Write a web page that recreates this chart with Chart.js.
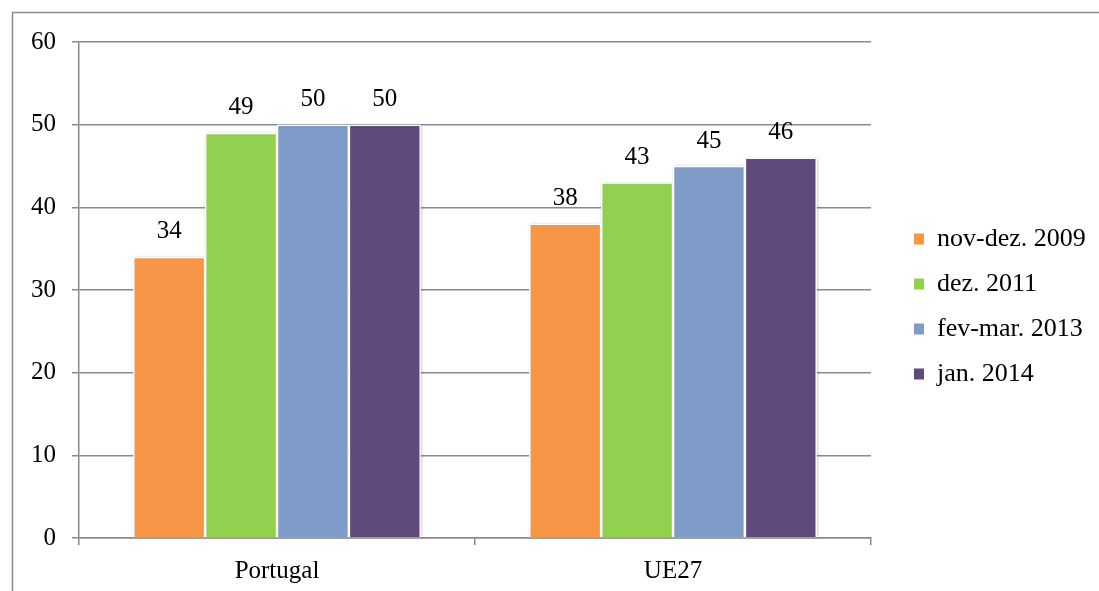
<!DOCTYPE html>
<html>
<head>
<meta charset="utf-8">
<script src="https://cdn.jsdelivr.net/npm/chart.js@4/dist/chart.umd.min.js"></script>
<style>
  html, body { margin: 0; padding: 0; background: #fff; }
  #wrap { width: 1099px; height: 591px; position: relative; }
</style>
</head>
<body>
<div id="wrap"><canvas id="c" width="1099" height="591"></canvas></div>
<script>
// Categories, series and axis ticks
const categories = ['Portugal', 'UE27'];
const seriesNames = ['nov-dez. 2009', 'dez. 2011', 'fev-mar. 2013', 'jan. 2014'];
const nov2009 = [34, 38];
const dez2011 = [49, 43];
const fevMar2013 = [50, 45];
const jan2014 = [50, 46];
const yTicks = [0, 10, 20, 30, 40, 50, 60];

const seriesValues = [nov2009, dez2011, fevMar2013, jan2014];
const seriesColors = ['#F79646', '#92D050', '#7F9CC8', '#604A7B'];

const FONT = '"Liberation Serif", "Times New Roman", serif';
const FONT_SIZE = 25;
const LEGEND_FONT_SIZE = 26;
const AXIS_GREY = '#8a8a8a';

// Layout targets (canvas pixels)
const CANVAS_W = 1099, CANVAS_H = 591;
const PLOT_LEFT = 79, PLOT_RIGHT = 871, PLOT_TOP = 42, PLOT_BOTTOM = 538;
const LEGEND_PAD = 19, LEGEND_BOX_W = 10, LEGEND_BOX_H = 11, LEGEND_BOX_X = 914;
const PAD_TOP = 22;

// Outer frame of the chart object
const framePlugin = {
  id: 'frame',
  beforeDraw(chart) {
    const ctx = chart.ctx;
    ctx.save();
    ctx.strokeStyle = '#8c8c8c';
    ctx.lineWidth = 1.5;
    ctx.beginPath();
    ctx.moveTo(12.5, CANVAS_H);
    ctx.lineTo(12.5, 12.5);
    ctx.lineTo(CANVAS_W, 12.5);
    ctx.stroke();
    ctx.restore();
  }
};

// Soft drop shadow behind each bar
const barShadowPlugin = {
  id: 'barShadow',
  beforeDatasetsDraw(chart) {
    const ctx = chart.ctx;
    ctx.save();
    ctx.shadowColor = 'rgba(0,0,0,0.28)';
    ctx.shadowBlur = 3;
    ctx.shadowOffsetX = 1;
    ctx.shadowOffsetY = 0;
    ctx.fillStyle = '#ffffff';
    chart.data.datasets.forEach((ds, i) => {
      const meta = chart.getDatasetMeta(i);
      meta.data.forEach(el => {
        const p = el.getProps(['x', 'y', 'base', 'width'], true);
        ctx.fillRect(p.x - p.width / 2, p.y, p.width, p.base - p.y);
      });
    });
    ctx.restore();
  }
};

// Value written above every bar
const valueLabelPlugin = {
  id: 'valueLabels',
  afterDatasetsDraw(chart) {
    const ctx = chart.ctx;
    ctx.save();
    ctx.font = FONT_SIZE + 'px ' + FONT;
    ctx.fillStyle = '#000';
    ctx.textAlign = 'center';
    ctx.textBaseline = 'middle';
    chart.data.datasets.forEach((ds, i) => {
      const meta = chart.getDatasetMeta(i);
      meta.data.forEach((el, j) => {
        const p = el.getProps(['x', 'y'], true);
        ctx.fillText(String(ds.data[j]), p.x, p.y - 25);
      });
    });
    ctx.restore();
  }
};

Chart.defaults.font.family = FONT;
Chart.defaults.font.size = FONT_SIZE;
Chart.defaults.color = '#000';

// Invisible spacer axis: only reserves room in the layout
const spacer = (position, weight, sizeFn) => ({
  type: 'linear',
  position,
  weight,
  display: true,
  grid: { display: false },
  border: { display: false },
  ticks: { display: false },
  afterFit(scale) {
    const size = sizeFn(scale.chart);
    if (position === 'top' || position === 'bottom') scale.height = size;
    else scale.width = size;
  }
});

const GAP_BEFORE_LEGEND = LEGEND_BOX_X - LEGEND_PAD - PLOT_RIGHT;

new Chart(document.getElementById('c'), {
  type: 'bar',
  data: {
    labels: categories,
    datasets: seriesNames.map((name, i) => ({
      label: name,
      data: seriesValues[i],
      backgroundColor: seriesColors[i],
      borderColor: '#ffffff',
      borderWidth: 1.25,
      barPercentage: 1,
      categoryPercentage: 0.726
    }))
  },
  options: {
    responsive: false,
    animation: false,
    events: [],
    layout: { padding: { left: 0, top: PAD_TOP, right: 0, bottom: 0 } },
    scales: {
      x: {
        grid: { display: true, drawOnChartArea: false, drawTicks: true, tickLength: 7, color: AXIS_GREY, lineWidth: 1.5 },
        border: { display: true, color: AXIS_GREY, width: 1.5 },
        ticks: { padding: 11, font: { size: FONT_SIZE, family: FONT }, color: '#000' },
        afterFit(scale) { scale.height = CANVAS_H - PLOT_BOTTOM; }
      },
      y: {
        min: yTicks[0],
        max: yTicks[yTicks.length - 1],
        afterBuildTicks(scale) { scale.ticks = yTicks.map(v => ({ value: v })); },
        grid: { color: AXIS_GREY, lineWidth: 1.5, tickLength: 7 },
        border: { display: true, color: AXIS_GREY, width: 1.5 },
        ticks: { padding: 16, font: { size: FONT_SIZE, family: FONT }, color: '#000' },
        afterFit(scale) { scale.width = PLOT_LEFT; }
      },
      topGap: spacer('top', 0, () => PLOT_TOP - PAD_TOP),
      rightGap: spacer('right', 0, () => GAP_BEFORE_LEGEND),
      outerGap: spacer('right', 2000, chart => {
        const lw = chart.legend ? chart.legend.width : 0;
        return Math.max(0, CANVAS_W - PLOT_RIGHT - GAP_BEFORE_LEGEND - lw);
      })
    },
    plugins: {
      legend: {
        position: 'right',
        align: 'center',
        maxWidth: 400,
        labels: {
          boxWidth: LEGEND_BOX_W,
          boxHeight: LEGEND_BOX_H,
          padding: LEGEND_PAD,
          font: { size: LEGEND_FONT_SIZE, family: FONT },
          color: '#000',
          generateLabels(chart) {
            return Chart.defaults.plugins.legend.labels.generateLabels(chart)
              .map(l => ({ ...l, lineWidth: 0, strokeStyle: 'rgba(0,0,0,0)' }));
          }
        }
      },
      tooltip: { enabled: false }
    }
  },
  plugins: [framePlugin, barShadowPlugin, valueLabelPlugin]
});
</script>
</body>
</html>
